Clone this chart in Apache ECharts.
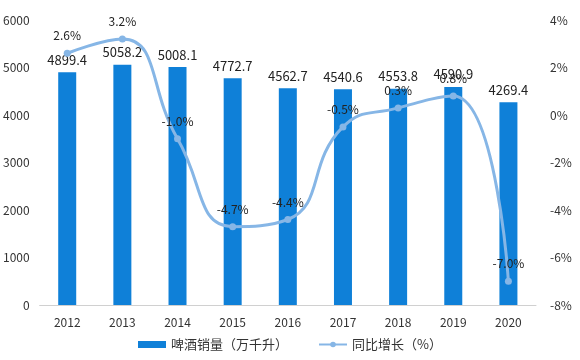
<!DOCTYPE html>
<html><head><meta charset="utf-8">
<script src="https://cdn.jsdelivr.net/npm/echarts@6/dist/echarts.min.js"></script>
<style>html,body{margin:0;padding:0;background:#fff}#c{width:580px;height:360px}</style>
</head><body><div id="c"></div>
<script>
const categories = ['2012','2013','2014','2015','2016','2017','2018','2019','2020'];
const sales = [4899.4, 5058.2, 5008.1, 4772.7, 4562.7, 4540.6, 4553.8, 4590.9, 4269.4];
const growth = [2.6, 3.2, -1.0, -4.7, -4.4, -0.5, 0.3, 0.8, -7.0];
const leftTicks = [0, 1000, 2000, 3000, 4000, 5000, 6000];
const rightTicks = [-8, -6, -4, -2, 0, 2, 4];

const font = '"Noto Sans CJK SC", "Microsoft YaHei", sans-serif';
const chart = echarts.init(document.getElementById('c'));
chart.setOption({
  animation: false,
  textStyle: { fontFamily: font },
  grid: { left: 39, right: 44, top: 20, bottom: 55 },
  legend: {
    bottom: 4, left: 'center', itemGap: 30, itemWidth: 28, itemHeight: 7,
    textStyle: { fontSize: 13, color: '#333', fontFamily: font },
    data: [
      { name: '啤酒销量（万千升）', icon: 'rect' },
      { name: '同比增长（%）' }
    ]
  },
  xAxis: {
    type: 'category', data: categories,
    axisLine: { lineStyle: { color: '#d0d0d0' } },
    axisTick: { show: false },
    axisLabel: { color: '#333', fontSize: 12, margin: 11 }
  },
  yAxis: [
    {
      type: 'value', min: leftTicks[0], max: leftTicks[leftTicks.length - 1], interval: 1000,
      axisLine: { show: false }, axisTick: { show: false }, splitLine: { show: false },
      axisLabel: { color: '#333', fontSize: 12, margin: 10, formatter: v => String(v) }
    },
    {
      type: 'value', min: rightTicks[0], max: rightTicks[rightTicks.length - 1], interval: 2,
      axisLine: { show: false }, axisTick: { show: false }, splitLine: { show: false },
      axisLabel: { color: '#333', fontSize: 12, margin: 14, formatter: '{value}%' }
    }
  ],
  series: [
    {
      name: '啤酒销量（万千升）', type: 'bar', data: sales, barWidth: 18,
      itemStyle: { color: '#0f80d8' },
      label: { show: true, position: 'top', distance: 6, color: '#222', fontSize: 13,
        formatter: p => p.value.toFixed(1) }
    },
    {
      name: '同比增长（%）', type: 'line', yAxisIndex: 1, data: growth, smooth: 0.5,
      symbol: 'circle', symbolSize: 7,
      lineStyle: { color: '#86b6e6', width: 3 },
      itemStyle: { color: '#86b6e6' },
      label: { show: true, position: 'top', distance: 8, color: '#222', fontSize: 12,
        formatter: p => p.value.toFixed(1) + '%' }
    }
  ]
});
</script></body></html>
